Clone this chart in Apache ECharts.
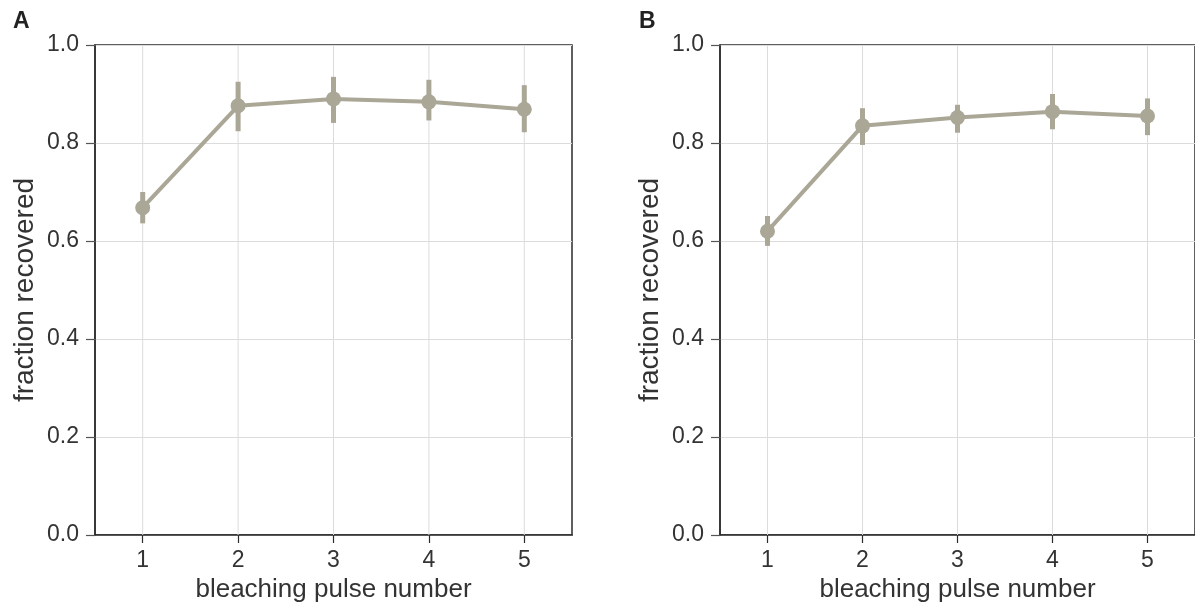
<!DOCTYPE html>
<html>
<head>
<meta charset="utf-8">
<script src="https://cdn.jsdelivr.net/npm/echarts@6/dist/echarts.min.js"></script>
<style>
  html, body { margin: 0; padding: 0; background: #fff; }
  #chart { width: 1195px; height: 609px; }
</style>
</head>
<body>
<div id="chart"></div>
<script>
// pulse numbers
const pulses = [1, 2, 3, 4, 5];
const yTicks = [0.0, 0.2, 0.4, 0.6, 0.8, 1.0];

// panel A
const meanA = [0.668, 0.876, 0.890, 0.884, 0.869];
const lowA = [0.636, 0.824, 0.841, 0.846, 0.822];
const highA = [0.700, 0.925, 0.935, 0.929, 0.918];

// panel B
const meanB = [0.620, 0.835, 0.852, 0.864, 0.855];
const lowB = [0.590, 0.796, 0.821, 0.828, 0.816];
const highB = [0.651, 0.871, 0.878, 0.900, 0.891];

const lineColor = "#aaa797";
const textColor = "#333";
const font = "Liberation Sans, Arial, sans-serif";

const chart = echarts.init(document.getElementById("chart"));

function xAxisFor(idx) {
  return {
    gridIndex: idx,
    type: "value",
    min: 0.5,
    max: 5.5,
    interval: 1,
    name: "bleaching pulse number",
    nameLocation: "middle",
    nameGap: 41,
    nameTextStyle: { fontSize: 26, color: textColor, fontFamily: font },
    axisLine: { show: true, lineStyle: { color: "#2b2b2b", width: 1.5 } },
    axisTick: {
      show: true, length: 8, lineStyle: { color: "#2b2b2b", width: 1.2 },
      customValues: pulses,
    },
    axisLabel: {
      fontSize: 23, color: textColor, fontFamily: font, margin: 14,
      customValues: pulses,
    },
    splitLine: { show: false },
  };
}

function yAxisFor(idx) {
  return {
    gridIndex: idx,
    type: "value",
    min: 0,
    max: 1,
    interval: 0.2,
    name: "fraction recovered",
    nameLocation: "middle",
    nameGap: 56,
    nameTextStyle: { fontSize: 28, color: textColor, fontFamily: font },
    axisLine: { show: true, lineStyle: { color: "#2b2b2b", width: 1.5 } },
    axisTick: { show: true, length: 9, lineStyle: { color: "#555", width: 1.2 } },
    axisLabel: {
      fontSize: 23, color: textColor, fontFamily: font, margin: 16,
      formatter: (v) => v.toFixed(1),
    },
    splitLine: { show: true, lineStyle: { color: "#dcdcdc", width: 1 } },
  };
}

// vertical grid lines at each pulse, drawn through the axis scale
function vGrid(idx) {
  return {
    type: "custom",
    xAxisIndex: idx,
    yAxisIndex: idx,
    silent: true,
    z: 1,
    data: pulses.map((p) => [p]),
    renderItem: (params, api) => {
      const a = api.coord([api.value(0), 0]);
      const b = api.coord([api.value(0), 1]);
      return {
        type: "line",
        shape: { x1: a[0], y1: a[1], x2: b[0], y2: b[1] },
        style: { stroke: "#dcdcdc", lineWidth: 1 },
      };
    },
  };
}

function errBars(idx, low, high) {
  return {
    type: "custom",
    xAxisIndex: idx,
    yAxisIndex: idx,
    z: 3,
    data: pulses.map((p, i) => [p, low[i], high[i]]),
    renderItem: (params, api) => {
      const a = api.coord([api.value(0), api.value(1)]);
      const b = api.coord([api.value(0), api.value(2)]);
      return {
        type: "line",
        shape: { x1: a[0], y1: a[1], x2: b[0], y2: b[1] },
        style: { stroke: lineColor, lineWidth: 5 },
      };
    },
  };
}

function meanLine(idx, mean) {
  return {
    type: "line",
    xAxisIndex: idx,
    yAxisIndex: idx,
    z: 4,
    data: pulses.map((p, i) => [p, mean[i]]),
    symbol: "circle",
    symbolSize: 15,
    itemStyle: { color: lineColor },
    lineStyle: { color: lineColor, width: 4 },
  };
}

const option = {
  animation: false,
  backgroundColor: "#fff",
  title: [
    { text: "A", left: 8, top: 5, textStyle: { fontSize: 23, fontWeight: "bold", color: "#222", fontFamily: font } },
    { text: "B", left: 634, top: 5, textStyle: { fontSize: 23, fontWeight: "bold", color: "#222", fontFamily: font } },
  ],
  grid: [
    { left: 95, top: 45, width: 477, height: 490, show: true, borderColor: "#2b2b2b", borderWidth: 1.5 },
    { left: 720, top: 45, width: 476, height: 490, show: true, borderColor: "#2b2b2b", borderWidth: 1.5 },
  ],
  xAxis: [xAxisFor(0), xAxisFor(1)],
  yAxis: [yAxisFor(0), yAxisFor(1)],
  series: [
    vGrid(0), errBars(0, lowA, highA), meanLine(0, meanA),
    vGrid(1), errBars(1, lowB, highB), meanLine(1, meanB),
  ],
};

chart.setOption(option);
</script>
</body>
</html>
